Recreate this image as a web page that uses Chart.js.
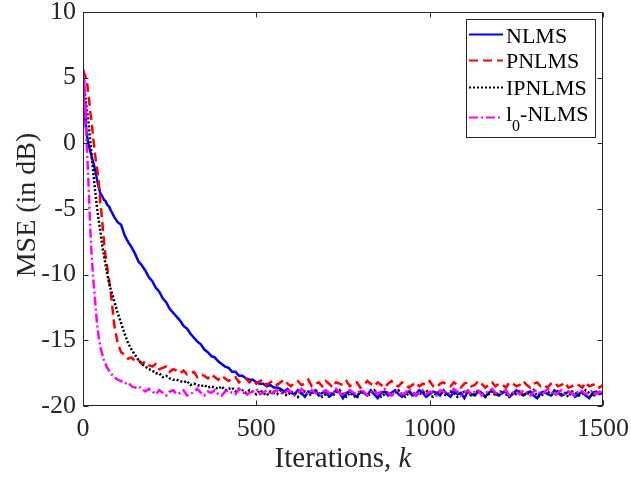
<!DOCTYPE html>
<html>
<head>
<meta charset="utf-8">
<script src="https://cdn.jsdelivr.net/npm/chart.js@4.4.1/dist/chart.umd.min.js"></script>
<style>
  html, body { margin: 0; padding: 0; background: #fff; }
  #wrap { position: relative; width: 631px; height: 480px; }
</style>
</head>
<body>
<div id="wrap"><canvas id="mse"></canvas></div>
<script>
// iteration index k for every sample
const iters = [
  0, 2, 4, 6, 8, 10, 12, 15, 18, 21, 25, 30, 35, 40, 45, 50, 55, 60, 65, 70, 75,
  80, 90, 100, 110, 120, 130, 140, 150, 160, 170,
  180, 190, 200, 210, 220, 230, 240, 250, 260, 270,
  280, 290, 300, 310, 320, 330, 340, 350, 360, 370,
  380, 390, 400, 410, 420, 430, 440, 450, 460, 470,
  480, 490, 500, 510, 520, 530, 540, 550, 560, 570,
  580, 590, 600, 610, 620, 630, 640, 650, 660, 670,
  680, 690, 700, 710, 720, 730, 740, 750, 760, 770,
  780, 790, 800, 810, 820, 830, 840, 850, 860, 870,
  880, 890, 900, 910, 920, 930, 940, 950, 960, 970,
  980, 990, 1000, 1010, 1020, 1030, 1040, 1050, 1060, 1070,
  1080, 1090, 1100, 1110, 1120, 1130, 1140, 1150, 1160, 1170,
  1180, 1190, 1200, 1210, 1220, 1230, 1240, 1250, 1260, 1270,
  1280, 1290, 1300, 1310, 1320, 1330, 1340, 1350, 1360, 1370,
  1380, 1390, 1400, 1410, 1420, 1430, 1440, 1450, 1460, 1470,
  1480, 1490, 1500
];

const nlms = [
  5.0, 3.6, 2.6, 1.9, 1.3, 0.9, 0.5, 0.0, -0.3, -0.6, -1.0, -1.5, -2.0, -2.7, -3.3, -3.8, -4.0, -4.3, -4.4, -4.7, -4.8,
  -5.1, -5.6, -6.0, -6.2, -7.0, -7.5, -7.9, -8.4, -9.0, -9.3,
  -9.7, -10.2, -10.5, -11.0, -11.3, -11.8, -12.1, -12.6, -12.9, -13.2,
  -13.5, -13.9, -14.1, -14.5, -14.8, -15.1, -15.3, -15.7, -15.9, -16.2,
  -16.3, -16.6, -16.8, -17.0, -17.1, -17.4, -17.4, -17.7, -17.7, -17.9,
  -18.0, -18.0, -18.2, -18.3, -18.3, -18.5, -18.4, -18.6, -18.6, -18.7,
  -18.9, -18.7, -19.0, -19.1, -18.8, -19.0, -19.3, -18.9, -19.0, -18.8,
  -19.2, -19.0, -18.9, -19.3, -19.1, -18.8, -19.0, -19.4, -19.0, -18.9,
  -19.1, -19.3, -18.9, -19.0, -19.2, -18.8, -19.1, -19.4, -19.0, -18.9,
  -19.2, -19.0, -18.8, -19.1, -19.3, -19.0, -18.9, -19.2, -19.1, -18.8,
  -19.0, -19.3, -19.1, -18.9, -19.0, -19.2, -18.8, -19.1, -19.3, -18.9,
  -19.1, -19.0, -19.4, -18.9, -19.1, -19.2, -18.9, -19.0, -19.3, -19.0,
  -18.8, -19.1, -19.2, -19.0, -18.9, -19.3, -19.1, -18.8, -19.0, -19.2,
  -19.0, -18.9, -19.2, -19.4, -19.0, -18.9, -19.1, -19.2, -18.8, -19.0,
  -19.2, -19.1, -18.9, -19.0, -19.3, -19.1, -18.9, -19.2, -19.4, -19.0,
  -18.9, -19.1, -19.0
];

const pnlms = [
  5.6, 5.5, 5.3, 5.2, 5.0, 4.9, 4.6, 3.8, 3.2, 2.4, 1.6, 0.3, -0.9, -1.8, -2.8, -4.5, -5.8, -7.3, -8.6, -9.5, -10.4,
  -11.3, -13.8, -15.2, -15.9, -16.1, -16.4, -16.3, -16.6, -16.5, -16.8,
  -16.6, -16.9, -17.0, -16.8, -17.2, -17.1, -17.0, -17.4, -17.2, -17.3,
  -17.5, -17.3, -17.6, -17.5, -17.4, -17.8, -17.6, -17.7, -17.9, -17.6,
  -17.8, -18.0, -17.7, -17.9, -18.1, -17.9, -17.8, -18.2, -18.0, -17.9,
  -18.2, -18.0, -18.3, -18.1, -18.0, -18.4, -18.2, -18.1, -18.4, -18.2,
  -18.0, -18.3, -18.5, -18.2, -18.1, -18.4, -18.3, -18.0, -18.5, -18.3,
  -18.2, -18.5, -18.1, -18.3, -18.6, -18.2, -18.3, -18.4, -18.1, -18.5,
  -18.3, -18.2, -18.6, -18.4, -18.1, -18.3, -18.5, -18.2, -18.4, -18.6,
  -18.3, -18.1, -18.4, -18.5, -18.2, -18.3, -18.6, -18.4, -18.2, -18.5,
  -18.3, -18.4, -18.1, -18.5, -18.6, -18.3, -18.2, -18.4, -18.5, -18.2,
  -18.4, -18.6, -18.3, -18.2, -18.5, -18.4, -18.1, -18.3, -18.6, -18.4,
  -18.2, -18.5, -18.3, -18.4, -18.6, -18.2, -18.3, -18.5, -18.4, -18.1,
  -18.4, -18.6, -18.3, -18.2, -18.5, -18.4, -18.6, -18.3, -18.2, -18.5,
  -18.4, -18.2, -18.6, -18.5, -18.3, -18.4, -18.6, -18.2, -18.5, -18.4,
  -18.3, -18.6, -18.4
];

const ipnlms = [
  5.0, 4.5, 4.1, 3.7, 3.2, 2.8, 2.4, 1.8, 1.0, 0.2, -1.0, -2.3, -3.6, -4.8, -5.8, -6.7, -7.7, -8.5, -9.2, -10.0, -10.6,
  -11.1, -12.0, -12.9, -13.7, -14.5, -15.2, -15.7, -16.1, -16.5, -16.8,
  -17.0, -17.2, -17.3, -17.5, -17.5, -17.8, -17.7, -17.9, -18.0, -18.0,
  -18.1, -18.2, -18.1, -18.4, -18.3, -18.4, -18.5, -18.4, -18.6, -18.5,
  -18.6, -18.7, -18.5, -18.8, -18.7, -18.6, -18.9, -18.7, -18.8, -19.0,
  -18.8, -18.9, -19.1, -18.8, -19.0, -19.2, -18.9, -19.0, -19.1, -18.8,
  -19.1, -19.2, -18.9, -19.0, -19.3, -19.0, -18.9, -19.2, -19.1, -18.8,
  -19.0, -19.3, -19.1, -18.9, -19.2, -19.0, -18.8, -19.1, -19.3, -19.0,
  -19.2, -19.4, -18.9, -19.0, -19.2, -19.1, -18.8, -19.0, -19.3, -19.1,
  -18.9, -19.2, -19.0, -18.8, -19.1, -19.3, -19.0, -18.9, -19.2, -19.1,
  -19.0, -18.8, -19.2, -19.3, -19.0, -18.9, -19.1, -19.2, -18.9, -19.0,
  -19.3, -19.1, -18.9, -19.0, -19.2, -19.1, -18.8, -19.0, -19.3, -19.1,
  -18.9, -19.2, -19.0, -18.8, -19.1, -19.3, -19.0, -19.1, -18.9, -19.2,
  -19.0, -19.1, -18.8, -19.2, -19.3, -19.0, -18.9, -19.1, -19.2, -18.9,
  -19.1, -19.0, -19.3, -18.9, -19.0, -19.2, -19.1, -18.8, -19.0, -19.3,
  -19.0, -18.9, -19.1
];

const l0nlms = [
  5.7, 3.0, 4.9, 1.4, 3.1, 0.2, -0.8, -2.5, -4.5, -6.5, -8.6, -10.4, -12.0, -13.6, -14.7, -15.5, -16.0, -16.5, -16.8, -17.1, -17.3,
  -17.5, -17.8, -18.0, -18.1, -18.3, -18.2, -18.5, -18.6, -18.5, -18.7,
  -18.9, -18.7, -18.9, -19.1, -18.8, -19.0, -19.2, -18.9, -18.8, -19.1,
  -19.0, -18.8, -19.2, -19.1, -18.9, -18.7, -19.0, -19.2, -18.9, -19.0,
  -18.8, -19.1, -19.2, -18.9, -18.8, -19.0, -19.1, -18.7, -18.9, -19.2,
  -19.0, -18.9, -18.7, -19.1, -19.0, -18.8, -19.2, -18.9, -18.8, -19.0,
  -19.1, -18.8, -18.9, -19.2, -19.0, -18.7, -18.9, -19.1, -18.8, -19.0,
  -19.2, -18.9, -18.8, -19.0, -19.1, -18.7, -19.0, -19.2, -18.9, -18.8,
  -19.0, -19.1, -18.8, -18.9, -19.2, -19.0, -18.8, -19.1, -18.9, -18.7,
  -19.0, -19.2, -18.9, -18.8, -19.1, -19.0, -18.7, -18.9, -19.2, -19.0,
  -18.8, -19.1, -18.9, -19.0, -19.2, -18.8, -18.9, -19.1, -19.0, -18.7,
  -18.9, -19.2, -19.0, -18.8, -19.1, -18.9, -18.8, -19.2, -19.0, -18.9,
  -18.7, -19.0, -19.1, -18.9, -18.8, -19.2, -19.0, -18.9, -19.1, -18.8,
  -19.0, -19.2, -18.9, -18.8, -19.1, -19.0, -18.7, -18.9, -19.2, -19.0,
  -18.8, -19.1, -18.9, -19.0, -19.2, -18.8, -18.9, -19.1, -19.0, -18.8,
  -19.1, -18.9, -19.0
];

const xTicks = [0, 500, 1000, 1500];
const yTicks = [-20, -15, -10, -5, 0, 5, 10];

const AXIS = '#262626';
const SERIF = '"Liberation Serif", "Times New Roman", serif';

const pts = vals => vals.map((v, i) => ({ x: iters[i], y: v }));

function series(label, vals, color, dash, order) {
  return {
    label, data: pts(vals), borderColor: color, backgroundColor: color,
    borderWidth: 2.5, borderDash: dash, pointRadius: 0, tension: 0, order
  };
}

// MATLAB-ish box, inward ticks, legend with subscript, axis titles
const matlabFrame = {
  id: 'matlabFrame',
  afterDatasetsDraw(chart) {
    const { ctx, chartArea: a, scales: { x, y } } = chart;
    const L = Math.round(a.left) + 0.5, R = Math.round(a.right) - 0.5;
    const T = Math.round(a.top) + 0.5, B = Math.round(a.bottom) - 0.5;
    ctx.save();
    ctx.strokeStyle = AXIS;
    ctx.lineWidth = 1;
    ctx.strokeRect(L, T, R - L, B - T);
    ctx.beginPath();
    xTicks.forEach(v => {
      const px = Math.round(x.getPixelForValue(v)) + 0.5;
      ctx.moveTo(px, B); ctx.lineTo(px, B - 5);
      ctx.moveTo(px, T); ctx.lineTo(px, T + 5);
    });
    yTicks.forEach(v => {
      const py = Math.round(y.getPixelForValue(v)) + 0.5;
      ctx.moveTo(L, py); ctx.lineTo(L + 5, py);
      ctx.moveTo(R, py); ctx.lineTo(R - 5, py);
    });
    ctx.stroke();

    // legend
    ctx.fillStyle = '#fff';
    ctx.fillRect(466.5, 19.5, 129, 118);
    ctx.strokeRect(466.5, 19.5, 129, 118);
    const rows = [
      { line: 34.5, base: 43 },
      { line: 60.5, base: 68 },
      { line: 87.5, base: 95 },
      { line: 117.5, base: 121 }
    ];
    const ds = chart.data.datasets;
    ds.forEach((d, i) => {
      const r = rows[i];
      ctx.strokeStyle = d.borderColor;
      ctx.lineWidth = 2;
      ctx.setLineDash(d.borderDash || []);
      ctx.beginPath();
      ctx.moveTo(469, r.line); ctx.lineTo(503, r.line);
      ctx.stroke();
      ctx.setLineDash([]);
      ctx.fillStyle = '#000';
      ctx.textBaseline = 'alphabetic';
      ctx.textAlign = 'left';
      ctx.font = '22px ' + SERIF;
      if (d.label === 'l0-NLMS') {
        ctx.fillText('l', 506, r.base);
        let cx = 506 + ctx.measureText('l').width;
        ctx.font = '16px ' + SERIF;
        ctx.fillText('0', cx, r.base + 10);
        cx += ctx.measureText('0').width;
        ctx.font = '22px ' + SERIF;
        ctx.fillText('-NLMS', cx, r.base);
      } else {
        ctx.fillText(d.label, 506, r.base);
      }
    });
    ctx.restore();
  },
  afterDraw(chart) {
    const { ctx } = chart;
    ctx.save();
    ctx.fillStyle = AXIS;
    // x title: "Iterations, k" with italic k
    ctx.textBaseline = 'alphabetic';
    ctx.textAlign = 'left';
    ctx.font = '29px ' + SERIF;
    const head = 'Iterations, ';
    const w1 = ctx.measureText(head).width;
    ctx.font = 'italic 29px ' + SERIF;
    const w2 = ctx.measureText('k').width;
    const sx = 343 - (w1 + w2) / 2;
    ctx.font = '29px ' + SERIF;
    ctx.fillText(head, sx, 467);
    ctx.font = 'italic 29px ' + SERIF;
    ctx.fillText('k', sx + w1, 467);
    // y title
    ctx.translate(28, 205);
    ctx.rotate(-Math.PI / 2);
    ctx.textAlign = 'center';
    ctx.textBaseline = 'middle';
    ctx.font = '28px ' + SERIF;
    ctx.fillText('MSE (in dB)', 0, 0);
    ctx.restore();
  }
};

new Chart(document.getElementById('mse'), {
  type: 'line',
  data: {
    datasets: [
      series('NLMS', nlms, '#0000ff', [], 4),
      series('PNLMS', pnlms, '#ff0000', [9, 5], 3),
      series('IPNLMS', ipnlms, '#000000', [2, 2], 2),
      series('l0-NLMS', l0nlms, '#ff00ff', [9, 3, 2, 3], 1)
    ]
  },
  options: {
    responsive: true,
    maintainAspectRatio: false,
    devicePixelRatio: 1,
    animation: false,
    layout: { padding: { left: 0, top: 12, right: 28, bottom: 0 } },
    plugins: { legend: { display: false }, tooltip: { enabled: false } },
    scales: {
      x: {
        type: 'linear', min: 0, max: 1500,
        grid: { display: false, drawTicks: false },
        border: { display: false },
        afterBuildTicks: s => { s.ticks = xTicks.map(v => ({ value: v })); },
        ticks: {
          color: AXIS, padding: 8, maxRotation: 0,
          font: { family: SERIF, size: 26 },
          callback: v => String(v)
        },
        afterFit: s => { s.height = 74; s.paddingLeft = 0; s.paddingRight = 0; }
      },
      y: {
        type: 'linear', min: -20, max: 10,
        grid: { display: false, drawTicks: false },
        border: { display: false },
        afterBuildTicks: s => { s.ticks = yTicks.map(v => ({ value: v })); },
        ticks: {
          color: AXIS, padding: 7,
          font: { family: SERIF, size: 26 },
          callback: v => String(v)
        },
        afterFit: s => { s.width = 83; s.paddingTop = 0; s.paddingBottom = 0; }
      }
    }
  },
  plugins: [matlabFrame]
});
</script>
</body>
</html>
